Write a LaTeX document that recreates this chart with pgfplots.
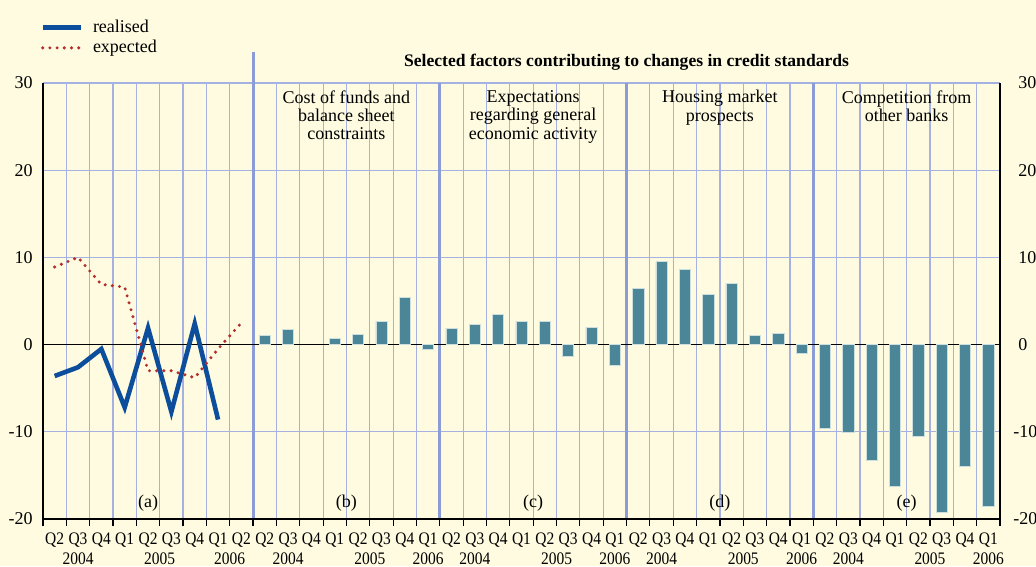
\documentclass[border=0pt]{standalone}
\usepackage{pgfplots}
\pgfplotsset{compat=1.18}
\usepackage{fontspec}
\setmainfont{Liberation Serif}
\newfontfamily\condfont[FakeStretch=0.88]{Liberation Serif}
\definecolor{bg}{RGB}{254,251,225}
\definecolor{gridc}{RGB}{165,178,225}
\definecolor{sepc}{RGB}{140,156,215}
\definecolor{barc}{RGB}{74,134,152}
\definecolor{barb}{RGB}{205,222,222}
\definecolor{realc}{RGB}{12,78,155}
\definecolor{expc}{RGB}{180,45,45}
\begin{document}
\begin{tikzpicture}[font=\fontsize{9}{9.2}\selectfont]
\fill[bg] (-21.5pt,-23.7pt) rectangle (496.5pt,259.5pt);
\useasboundingbox (-21.5pt,-23.7pt) rectangle (496.5pt,259.5pt);
\begin{axis}[
  scale only axis, width=478.5pt, height=218pt,
  xmin=0, xmax=41, ymin=-20, ymax=30,
  clip=false,
  axis line style={draw=none},
  xtick={0.5,1.5,...,40.5},
  xticklabels={Q2,Q3,Q4,Q1,Q2,Q3,Q4,Q1,Q2,
    Q2,Q3,Q4,Q1,Q2,Q3,Q4,Q1,
    Q2,Q3,Q4,Q1,Q2,Q3,Q4,Q1,
    Q2,Q3,Q4,Q1,Q2,Q3,Q4,Q1,
    Q2,Q3,Q4,Q1,Q2,Q3,Q4,Q1},
  major tick length=0pt,
  minor xtick={0,1,...,41},
  minor x tick style={black, line width=0.6pt},
  minor tick length=3.5pt,
  tick align=outside,
  xtick pos=bottom,
  ytick pos=left,
  xminorgrids, minor x grid style={gridc, line width=0.6pt},
  ytick={-20,-10,0,10,20,30},
  yticklabels={-20,-10,0,10,20,30},
  ymajorgrids, major y grid style={gridc, line width=0.6pt},
  xticklabel style={inner sep=0pt, anchor=base, yshift=-12.7pt,
    font=\fontsize{8.8}{9}\condfont},
  yticklabel style={inner sep=0pt, anchor=east, xshift=-5pt},
  legend style={draw=none, fill=none, inner sep=0pt, at={(0,1)}, anchor=south west,
    yshift=11.5pt, xshift=-1.5pt, row sep=-1.5pt, cells={anchor=west},
    font=\fontsize{9}{9.2}\selectfont,
    /tikz/every odd column/.append style={column sep=3pt}},
  legend image code/.code={\draw[#1] (0pt,0pt) -- (19pt,0pt);},
]
% separators
\draw[sepc, line width=1.5pt] (axis cs:9,-20) -- (axis cs:9,33.5);
\draw[sepc, line width=1.5pt] (axis cs:17,-20) -- (axis cs:17,30);
\draw[sepc, line width=1.5pt] (axis cs:25,-20) -- (axis cs:25,30);
\draw[sepc, line width=1.5pt] (axis cs:33,-20) -- (axis cs:33,30);
% axis lines
\draw[black, line width=0.6pt] (axis cs:0,0) -- (axis cs:41,0);
\draw[black, line width=0.8pt] (axis cs:0,-20) -- (axis cs:0,30);
\draw[black, line width=0.8pt] (axis cs:41,-20) -- (axis cs:41,30);
\draw[black, line width=0.8pt] (axis cs:0,-20) -- (axis cs:41,-20);

\addplot[ybar, bar width=5.6pt, fill=barc, draw=barb, line width=0.3pt, forget plot] coordinates {
  (9.5,1.1) (10.5,1.7) (12.5,0.7) (13.5,1.2) (14.5,2.7) (15.5,5.4) (16.5,-0.5)
  (17.5,1.9) (18.5,2.3) (19.5,3.5) (20.5,2.7) (21.5,2.7) (22.5,-1.3) (23.5,2.0) (24.5,-2.35)
  (25.5,6.4) (26.5,9.5) (27.5,8.6) (28.5,5.8) (29.5,7.05) (30.5,1.1) (31.5,1.3) (32.5,-1.0)
  (33.5,-9.6) (34.5,-10.1) (35.5,-13.3) (36.5,-16.3) (37.5,-10.5) (38.5,-19.2) (39.5,-13.9) (40.5,-18.5)
};
\addplot[realc, line width=2.3pt, line join=miter] coordinates {
  (0.5,-3.6) (1.5,-2.6) (2.5,-0.5) (3.5,-7.2) (4.5,1.9) (5.5,-7.7) (6.5,2.4) (7.5,-8.6)
};
\addlegendentry{realised}
\addplot[expc, line width=1.7pt, line cap=round, dash pattern=on 0pt off 3.6pt] coordinates {
  (0.5,8.9) (1.5,10.0) (2.5,6.9) (3.5,6.6) (4.5,-3.0) (5.5,-3.0) (6.5,-3.8) (7.5,-0.5) (8.5,2.5)
};
\addlegendentry{expected}

% right tick labels
\node[anchor=west, inner sep=0pt] at (axis cs:41,30) [xshift=9pt] {30};
\node[anchor=west, inner sep=0pt] at (axis cs:41,20) [xshift=9pt] {20};
\node[anchor=west, inner sep=0pt] at (axis cs:41,10) [xshift=9pt] {10};
\node[anchor=west, inner sep=0pt] at (axis cs:41,0) [xshift=9pt] {0};
\node[anchor=west, inner sep=0pt] at (axis cs:41,-10) [xshift=6.5pt] {-10};
\node[anchor=west, inner sep=0pt] at (axis cs:41,-20) [xshift=6.5pt] {-20};

% years
\begin{scope}[every node/.style={anchor=base, inner sep=0pt, font=\fontsize{8.8}{9}\condfont, yshift=-22.8pt}]
\node at (axis cs:1.5,-20) {2004};
\node at (axis cs:5.0,-20) {2005};
\node at (axis cs:8.0,-20) {2006};
\node at (axis cs:10.5,-20) {2004};
\node at (axis cs:14.0,-20) {2005};
\node at (axis cs:16.5,-20) {2006};
\node at (axis cs:18.5,-20) {2004};
\node at (axis cs:22.0,-20) {2005};
\node at (axis cs:24.5,-20) {2006};
\node at (axis cs:26.5,-20) {2004};
\node at (axis cs:30.0,-20) {2005};
\node at (axis cs:32.5,-20) {2006};
\node at (axis cs:34.5,-20) {2004};
\node at (axis cs:38.0,-20) {2005};
\node at (axis cs:40.5,-20) {2006};
\end{scope}
% panel letters
\node at (axis cs:4.5,-18.2) {(a)};
\node at (axis cs:13,-18.2) {(b)};
\node at (axis cs:21,-18.2) {(c)};
\node at (axis cs:29,-18.2) {(d)};
\node at (axis cs:37,-18.2) {(e)};
% panel titles
\node[anchor=north, align=center, inner sep=0pt] at (axis cs:13,30) [yshift=-3.5pt] {Cost of funds and\\balance sheet\\constraints};
\node[anchor=north, align=center, inner sep=0pt] at (axis cs:21,30) [yshift=-3.5pt] {Expectations\\regarding general\\economic activity};
\node[anchor=north, align=center, inner sep=0pt] at (axis cs:29,30) [yshift=-3.5pt] {Housing market\\prospects};
\node[anchor=north, align=center, inner sep=0pt] at (axis cs:37,30) [yshift=-3.5pt] {Competition from\\other banks};
\node[anchor=base, inner sep=0pt, font=\fontsize{8.8}{9}\selectfont\bfseries] at (axis cs:25,30) [yshift=8.5pt] {Selected factors contributing to changes in credit standards};
\end{axis}
\end{tikzpicture}
\end{document}
